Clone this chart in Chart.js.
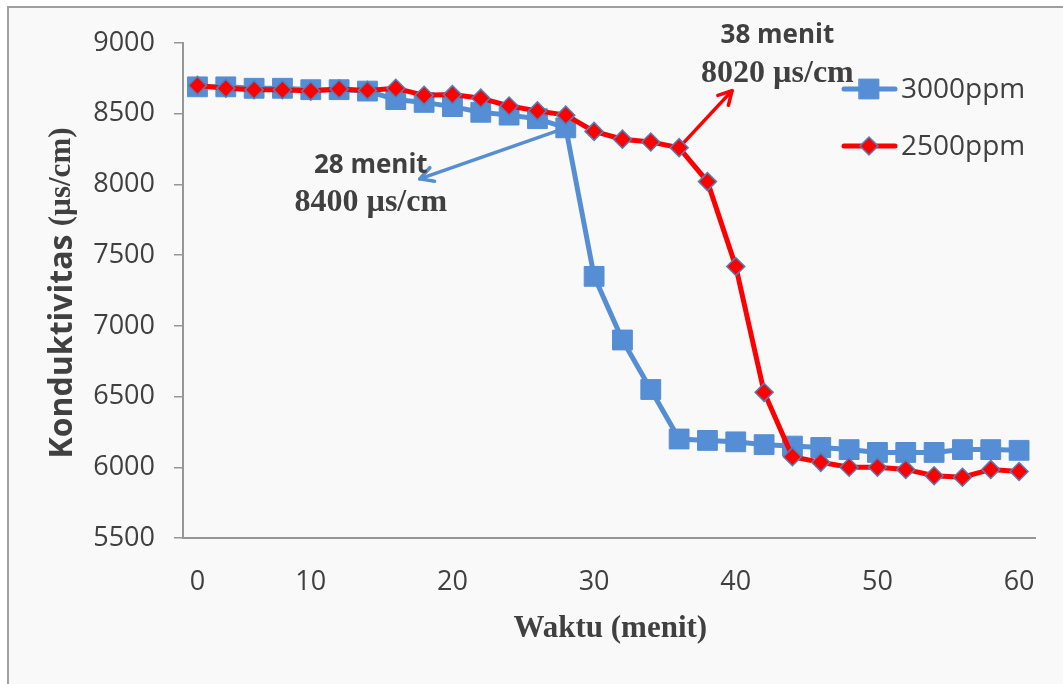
<!DOCTYPE html>
<html>
<head>
<meta charset="utf-8">
<script src="https://cdn.jsdelivr.net/npm/chart.js@4/dist/chart.umd.min.js"></script>
<style>
  html, body { margin: 0; padding: 0; background: #ffffff; }
  #wrap { width: 1063px; height: 684px; position: relative; }
</style>
</head>
<body>
<div id="wrap"><canvas id="c" width="1063" height="684"></canvas></div>
<script>
// Sampling times (minutes) for each measurement
const minutes = [2, 4, 6, 8, 10, 12, 14, 16, 18, 20, 22, 24, 26, 28, 30,
                 32, 34, 36, 38, 40, 42, 44, 46, 48, 50, 52, 54, 56, 58, 60];

// Conductivity (µs/cm) per series
const cond3000 = [8690, 8690, 8680, 8680, 8670, 8670, 8660, 8600, 8580, 8550,
                  8510, 8490, 8465, 8400, 7350, 6900, 6550, 6200, 6190, 6180,
                  6160, 6150, 6140, 6125, 6105, 6105, 6105, 6125, 6125, 6120];
const cond2500 = [8700, 8680, 8670, 8670, 8660, 8675, 8665, 8680, 8630, 8635,
                  8610, 8555, 8520, 8490, 8375, 8320, 8300, 8260, 8020, 7420,
                  6530, 6075, 6035, 6000, 6000, 5985, 5940, 5930, 5985, 5970];

const seriesNames = ['3000ppm', '2500ppm'];

// Horizontal axis labels and the sample slot each one sits under
const xTickLabels = ['0', '10', '20', '30', '40', '50', '60'];
const xTickSlots = [0, 4, 9, 14, 19, 24, 29];

// Vertical axis range
const yMin = 5500, yMax = 9000, yStep = 500;

const TEXT = '#404040';
const AXIS = '#969696';
const SANS = '"Open Sans", "Noto Sans", sans-serif';
const SERIF = '"Liberation Serif", "Times New Roman", serif';

const BLUE = '#558ED5';
const RED = '#FF0000';

// Callouts: which point they describe, where the arrow starts, arrow tip offset, text offsets
const callouts = [
  { series: 0, point: 13, arrowFrom: 13, tip: [-146, 51], color: BLUE,
    line1: [-195, 45], line2: [-195, 83] },
  { series: 1, point: 18, arrowFrom: 17, tip: [53, -57], color: RED,
    line1: [70, -139], line2: [70, -100] }
];

const pts = (arr) => arr.map((v, i) => ({ x: i, y: v }));

const decor = {
  id: 'decor',
  beforeDraw(chart) {
    const { ctx, width, height } = chart;
    ctx.save();
    ctx.fillStyle = '#ffffff';
    ctx.fillRect(0, 0, width, height);
    ctx.fillStyle = '#f9f9f9';
    ctx.fillRect(8, 7, width - 8, height - 7);
    ctx.strokeStyle = '#a0a0a0';
    ctx.lineWidth = 2;
    ctx.beginPath();
    ctx.moveTo(8, height);
    ctx.lineTo(8, 7);
    ctx.lineTo(width, 7);
    ctx.stroke();
    ctx.restore();
  },
  beforeDatasetsDraw(chart) {
    const { ctx } = chart;
    ctx.save();
    callouts.forEach(c => {
      const el = chart.getDatasetMeta(c.series).data[c.arrowFrom];
      const x0 = el.x, y0 = el.y;
      const x1 = x0 + c.tip[0], y1 = y0 + c.tip[1];
      ctx.strokeStyle = c.color;
      ctx.lineWidth = 3.5;
      ctx.lineCap = 'round';
      ctx.lineJoin = 'round';
      ctx.beginPath();
      ctx.moveTo(x0, y0);
      ctx.lineTo(x1, y1);
      ctx.stroke();
      const ang = Math.atan2(y1 - y0, x1 - x0);
      const hl = 15, spread = 0.5;
      ctx.beginPath();
      ctx.moveTo(x1 - hl * Math.cos(ang - spread), y1 - hl * Math.sin(ang - spread));
      ctx.lineTo(x1, y1);
      ctx.lineTo(x1 - hl * Math.cos(ang + spread), y1 - hl * Math.sin(ang + spread));
      ctx.stroke();
    });
    ctx.restore();
  },
  afterDraw(chart) {
    const { ctx, chartArea } = chart;
    ctx.save();
    ctx.fillStyle = TEXT;

    // Vertical axis title with mixed fonts
    const p1 = 'Konduktivitas ';
    const p2 = '(µs/cm)';
    const f1 = 'bold 32px ' + SANS;
    const f2 = 'bold 31px ' + SERIF;
    ctx.font = f1; const w1 = ctx.measureText(p1).width;
    ctx.font = f2; const w2 = ctx.measureText(p2).width;
    const cy = 293;
    ctx.translate(62, cy);
    ctx.rotate(-Math.PI / 2);
    ctx.textBaseline = 'middle';
    ctx.textAlign = 'left';
    const start = -(w1 + w2) / 2;
    ctx.font = f1; ctx.fillText(p1, start, 1);
    ctx.font = f2; ctx.fillText(p2, start + w1, 0);
    ctx.setTransform(1, 0, 0, 1, 0, 0);

    // Horizontal axis title
    ctx.font = 'bold 31px ' + SERIF;
    ctx.textAlign = 'center';
    ctx.textBaseline = 'alphabetic';
    ctx.fillText('Waktu (menit)', (chartArea.left + chartArea.right) / 2 + 1, 637);

    // Callout texts, built from the data they describe
    callouts.forEach(c => {
      const el = chart.getDatasetMeta(c.series).data[c.point];
      const vals = c.series === 0 ? cond3000 : cond2500;
      ctx.textAlign = 'center';
      ctx.textBaseline = 'alphabetic';
      ctx.font = 'bold 26px ' + SANS;
      ctx.fillText(minutes[c.point] + ' menit', el.x + c.line1[0], el.y + c.line1[1]);
      ctx.font = 'bold 32px ' + SERIF;
      ctx.fillText(vals[c.point] + ' µs/cm', el.x + c.line2[0], el.y + c.line2[1]);
    });

    // Legend
    const rows = [89, 146];
    chart.data.datasets.forEach((ds, i) => {
      const y = rows[i];
      ctx.strokeStyle = ds.borderColor;
      ctx.lineWidth = ds.borderWidth;
      ctx.lineCap = 'round';
      ctx.beginPath();
      ctx.moveTo(844, y);
      ctx.lineTo(895, y);
      ctx.stroke();
      ctx.fillStyle = ds.pointBackgroundColor;
      ctx.strokeStyle = ds.pointBorderColor;
      ctx.lineWidth = ds.pointBorderWidth;
      ctx.beginPath();
      if (ds.pointStyle === 'rect') {
        const s = Math.SQRT1_2 * ds.pointRadius;
        ctx.rect(869 - s, y - s, 2 * s, 2 * s);
      } else {
        const r = ds.pointRadius;
        ctx.moveTo(869 - r, y); ctx.lineTo(869, y - r);
        ctx.lineTo(869 + r, y); ctx.lineTo(869, y + r);
        ctx.closePath();
      }
      ctx.fill();
      ctx.stroke();
      ctx.fillStyle = TEXT;
      ctx.font = '28px ' + SANS;
      ctx.textAlign = 'left';
      ctx.textBaseline = 'middle';
      ctx.fillText(seriesNames[i], 901, y + 1);
    });
    ctx.restore();
  }
};

new Chart(document.getElementById('c'), {
  type: 'line',
  data: {
    datasets: [
      {
        label: seriesNames[0],
        data: pts(cond3000),
        borderColor: BLUE,
        borderWidth: 5,
        pointStyle: 'rect',
        pointRadius: 14,
        pointBackgroundColor: BLUE,
        pointBorderColor: BLUE,
        pointBorderWidth: 1,
        tension: 0,
        order: 1
      },
      {
        label: seriesNames[1],
        data: pts(cond2500),
        borderColor: RED,
        borderWidth: 5,
        pointStyle: 'rectRot',
        pointRadius: 9,
        pointBackgroundColor: RED,
        pointBorderColor: '#4F81BD',
        pointBorderWidth: 1.5,
        tension: 0,
        order: 0
      }
    ]
  },
  options: {
    responsive: false,
    devicePixelRatio: 1,
    animation: false,
    events: [],
    layout: { padding: { left: 0, top: 43, right: 24, bottom: 0 } },
    plugins: { legend: { display: false }, tooltip: { enabled: false } },
    scales: {
      x: {
        type: 'linear',
        min: -0.51,
        max: 29.58,
        afterBuildTicks: (scale) => { scale.ticks = xTickSlots.map(v => ({ value: v })); },
        afterFit: (scale) => { scale.height = 684 - 538; },
        grid: { display: true, drawOnChartArea: false, drawTicks: false, color: AXIS },
        border: { display: true, color: AXIS, width: 2 },
        ticks: {
          autoSkip: false,
          maxRotation: 0,
          padding: 28,
          color: TEXT,
          font: { family: SANS, size: 27 },
          callback: (v) => {
            const k = xTickSlots.indexOf(v);
            return k >= 0 ? xTickLabels[k] : '';
          }
        }
      },
      y: {
        min: yMin,
        max: yMax,
        afterFit: (scale) => { scale.width = 183; },
        grid: { drawOnChartArea: false, drawTicks: true, tickLength: 9, color: AXIS, lineWidth: 1.5 },
        border: { display: true, color: AXIS, width: 2 },
        ticks: {
          stepSize: yStep,
          padding: 19,
          color: TEXT,
          font: { family: SANS, size: 27 },
          callback: (v) => String(v)
        }
      }
    }
  },
  plugins: [decor]
});
</script>
</body>
</html>
